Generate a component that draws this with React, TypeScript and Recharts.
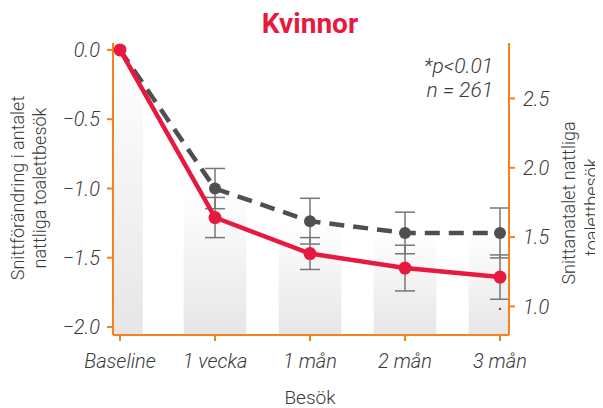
import React from 'react';
import { ComposedChart, Line, XAxis, YAxis, ErrorBar, ReferenceArea, LabelList } from 'recharts';

// visits (x-axis categories)
const categories = ['Baseline', '1 vecka', '1 mån', '2 mån', '3 mån'];

// red line: mean change in nightly toilet visits (left axis)
const changeMean = [0, -1.21, -1.47, -1.575, -1.64];
const changeErr = [0, 0.145, 0.115, 0.165, 0.16];

// grey dashed line + background bands: mean nightly toilet visits (right axis)
const visitsMean = [2.85, 1.85, 1.615, 1.53, 1.53];
const visitsErr = [0, 0.145, 0.165, 0.15, 0.18];

// significance marks
const sigMarks = ['', '', '', '', '•'];

const leftTicks = [0, -0.5, -1, -1.5, -2];
const rightTicks = [1, 1.5, 2, 2.5];

const ORANGE = '#f5821f';
const RED = '#e8193f';
const GRAY = '#4f4f51';
const ERR = '#777777';
const TEXT = '#3a3a3a';
const FONT = 'Roboto, sans-serif';

const xDomain = [-0.074, 4.095];
const leftDomain = [-2.058, 0.05];
const rightDomain = [0.794, 2.9];

const rows = categories.map((c, i) => ({
  x: i,
  name: c,
  change: changeMean[i],
  changeErr: changeErr[i],
  visits: visitsMean[i],
  visitsErr: visitsErr[i],
  sig: sigMarks[i],
}));

const fmt = (v: number) => (v < 0 ? '\u2212' : '') + Math.abs(v).toFixed(1);

const tickStyle = { fill: TEXT, fontSize: 20, fontStyle: 'italic', fontWeight: 300, fontFamily: FONT };

const renderSig = (props: any) => {
  const { x, y, value } = props;
  if (!value) return null;
  return (
    <text x={x} y={y + 36} textAnchor="middle" fontSize={10} fill="#444">
      {value}
    </text>
  );
};

export default function App() {
  const last = categories.length - 1;
  return (
    <div style={{ position: 'relative', width: 595, height: 400, fontFamily: FONT }}>
      <ComposedChart width={595} height={400} data={rows} margin={{ top: 35, right: 0, bottom: 0, left: 0 }}>
        <defs>
          <linearGradient id="band" x1="0" y1="0" x2="0" y2="1">
            <stop offset="0%" stopColor="#ffffff" />
            <stop offset="100%" stopColor="#e6e6e6" />
          </linearGradient>
        </defs>
        <XAxis
          dataKey="x"
          type="number"
          domain={xDomain}
          ticks={[0, 1, 2, 3, 4]}
          tickFormatter={(v: number) => categories[v]}
          interval={0}
          allowDataOverflow
          height={73}
          axisLine={{ stroke: ORANGE, strokeWidth: 2 }}
          tickLine={{ stroke: ORANGE, strokeWidth: 2 }}
          tickSize={6}
          tickMargin={13}
          tick={tickStyle}
        />
        <YAxis
          yAxisId="left"
          width={105}
          domain={leftDomain}
          ticks={leftTicks}
          tickFormatter={fmt}
          allowDataOverflow
          axisLine={{ stroke: ORANGE, strokeWidth: 2 }}
          tickLine={{ stroke: ORANGE, strokeWidth: 2 }}
          tickSize={6}
          tickMargin={7}
          tick={tickStyle}
        />
        <YAxis
          yAxisId="right"
          orientation="right"
          width={94}
          domain={rightDomain}
          ticks={rightTicks}
          tickFormatter={(v: number) => v.toFixed(1)}
          allowDataOverflow
          axisLine={{ stroke: ORANGE, strokeWidth: 2 }}
          tickLine={{ stroke: ORANGE, strokeWidth: 2 }}
          tickSize={6}
          tickMargin={8}
          tick={tickStyle}
        />
        {categories.map((c, i) => (
          <ReferenceArea
            key={c}
            yAxisId="right"
            x1={i === 0 ? xDomain[0] : i - 0.33}
            x2={i === last ? xDomain[1] : i === 0 ? 0.24 : i + 0.33}
            y1={rightDomain[0]}
            y2={visitsMean[i]}
            fill="url(#band)"
            fillOpacity={1}
            stroke="none"
            ifOverflow="hidden"
          />
        ))}
        <Line
          yAxisId="right"
          dataKey="visits"
          stroke={GRAY}
          strokeWidth={4.5}
          strokeDasharray="15 9"
          dot={{ r: 6, fill: GRAY, stroke: 'none', strokeDasharray: '' }}
          activeDot={false}
          isAnimationActive={false}
        >
          <ErrorBar dataKey="visitsErr" width={10} stroke={ERR} strokeWidth={1.5} direction="y" />
        </Line>
        <Line
          yAxisId="left"
          dataKey="change"
          stroke={RED}
          strokeWidth={4.5}
          dot={{ r: 6.5, fill: RED, stroke: 'none' }}
          activeDot={false}
          isAnimationActive={false}
        >
          <ErrorBar dataKey="changeErr" width={10} stroke={ERR} strokeWidth={1.5} direction="y" />
          <LabelList dataKey="sig" content={renderSig} />
        </Line>
      </ComposedChart>
      {/* text overlay in page coordinates */}
      <svg
        width={603}
        height={408}
        style={{ position: 'absolute', left: -8, top: -8, pointerEvents: 'none', overflow: 'visible' }}
        fontFamily={FONT}
      >
        <text x={310} y={33} textAnchor="middle" fontSize={28} fontWeight="bold" fill={RED}>
          Kvinnor
        </text>
        <text x={493} y={73} textAnchor="end" fontSize={21} fontStyle="italic" fontWeight={300} fill={TEXT}>
          *p&lt;0.01
        </text>
        <text x={493} y={97} textAnchor="end" fontSize={21} fontStyle="italic" fontWeight={300} fill={TEXT}>
          n = 261
        </text>
        <text transform="translate(24,188) rotate(-90)" textAnchor="middle" fontSize={18} fontWeight={300} fill={TEXT}>
          Snittförändring i antalet
        </text>
        <text transform="translate(46,188) rotate(-90)" textAnchor="middle" fontSize={18} fontWeight={300} fill={TEXT}>
          nattliga toalettbesök
        </text>
        <text transform="translate(575,203) rotate(-90)" textAnchor="middle" fontSize={18} fontWeight={300} fill={TEXT}>
          Snittanatalet nattliga
        </text>
        <text transform="translate(598,205) rotate(-90)" textAnchor="middle" fontSize={18} fontWeight={300} fill={TEXT}>
          toalettbesök.
        </text>
        <text x={310} y={404} textAnchor="middle" fontSize={19} fontWeight={300} fill={TEXT}>
          Besök
        </text>
      </svg>
    </div>
  );
}
